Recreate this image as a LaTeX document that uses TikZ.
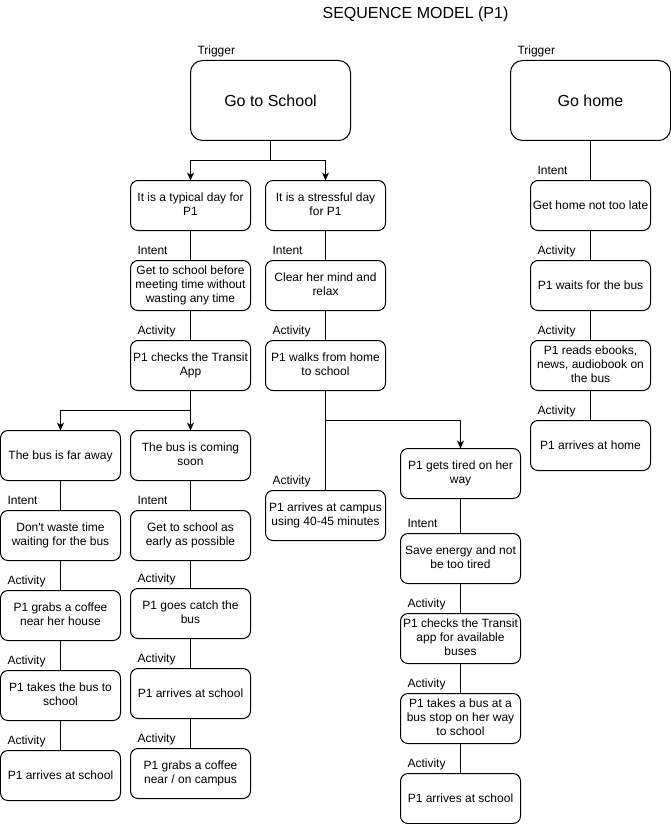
\documentclass[tikz,border=0pt]{standalone}
\usepackage{fontspec}
\setmainfont{Liberation Sans}
\usetikzlibrary{arrows.meta}
\newcommand{\topstrutx}{\rule{0pt}{0.905em}}
\newcommand{\botstrutx}{\rule[-0.212em]{0pt}{0pt}}
\begin{document}
\begin{tikzpicture}[x=1pt,y=-1pt,
  every node/.style={font=\fontsize{12}{14}\selectfont, inner sep=0pt, outer sep=0pt,
    execute at begin node={\topstrutx}, execute at end node={\botstrutx}},
  box/.style={draw, line width=1pt, rounded corners=7.5pt, minimum width=120pt, minimum height=50pt, align=center},
  bigbox/.style={draw, line width=1pt, rounded corners=12pt, minimum width=160pt, minimum height=80pt, align=center, font=\fontsize{16}{19}\selectfont},
  lbl/.style={anchor=west},
  conn/.style={line width=1pt},
  arr/.style={line width=1pt, -{Stealth[length=8pt,width=7pt,inset=2.5pt]}}
]
\fill[white] (-0.5,-0.5) rectangle (670.5,823.5);
\useasboundingbox (-0.5,-0.5) rectangle (670.5,823.5);

\node[font=\fontsize{16}{19}\selectfont] (title) at (415,12) {SEQUENCE MODEL (P1)};

% triggers
\node[bigbox] (s) at (270,100) {Go to School};
\node[bigbox] (h) at (590,100) {Go home};
\node[lbl] (ts) at (197,50) {Trigger};
\node[lbl] (th) at (517,50) {Trigger};

% column A
\node[box] (a1) at (190,205) {It is a typical day for\\P1};
\node[box] (a2) at (190,285) {Get to school before\\meeting time without\\wasting any time};
\node[box] (a3) at (190,365) {P1 checks the Transit\\App};
% column B
\node[box] (b1) at (325,205) {It is a stressful day\\for P1};
\node[box] (b2) at (325,285) {Clear her mind and\\relax};
\node[box] (b3) at (325,365) {P1 walks from home\\to school};
\node[box] (b4) at (325,515) {P1 arrives at campus\\using 40-45 minutes};
% column L
\node[box] (l1) at (60,455) {The bus is far away};
\node[box] (l2) at (60,535) {Don\textquotesingle t waste time\\waiting for the bus};
\node[box] (l3) at (60,615) {P1 grabs a coffee\\near her house};
\node[box] (l4) at (60,695) {P1 takes the bus to\\school};
\node[box] (l5) at (60,775) {P1 arrives at school};
% column M
\node[box] (m1) at (190,455) {The bus is coming\\soon};
\node[box] (m2) at (190,535) {Get to school as\\early as possible};
\node[box] (m3) at (190,613) {P1 goes catch the\\bus};
\node[box] (m4) at (190,693) {P1 arrives at school};
\node[box] (m5) at (190,773) {P1 grabs a coffee\\near / on campus};
% column D
\node[box] (d1) at (460,473) {P1 gets tired on her\\way};
\node[box] (d2) at (460,558) {Save energy and not\\be too tired};
\node[box] (d3) at (460,638) {P1 checks the Transit\\app for available\\buses};
\node[box] (d4) at (460,718) {P1 takes a bus at a\\bus stop on her way\\to school};
\node[box] (d5) at (460,798) {P1 arrives at school};
% column C
\node[box] (c1) at (590,205) {Get home not too late};
\node[box] (c2) at (590,285) {P1 waits for the bus};
\node[box] (c3) at (590,365) {P1 reads ebooks,\\news, audiobook on\\the bus};
\node[box] (c4) at (590,445) {P1 arrives at home};

% labels
\node[lbl] (la2) at ([shift={(7,-10)}]a2.north west) {Intent};
\node[lbl] (la3) at ([shift={(7,-10)}]a3.north west) {Activity};
\node[lbl] (lb2) at ([shift={(7,-10)}]b2.north west) {Intent};
\node[lbl] (lb3) at ([shift={(7,-10)}]b3.north west) {Activity};
\node[lbl] (lb4) at ([shift={(7,-10)}]b4.north west) {Activity};
\node[lbl] (ll2) at ([shift={(7,-10)}]l2.north west) {Intent};
\node[lbl] (ll3) at ([shift={(7,-10)}]l3.north west) {Activity};
\node[lbl] (ll4) at ([shift={(7,-10)}]l4.north west) {Activity};
\node[lbl] (ll5) at ([shift={(7,-10)}]l5.north west) {Activity};
\node[lbl] (lm2) at ([shift={(7,-10)}]m2.north west) {Intent};
\node[lbl] (lm3) at ([shift={(7,-10)}]m3.north west) {Activity};
\node[lbl] (lm4) at ([shift={(7,-10)}]m4.north west) {Activity};
\node[lbl] (lm5) at ([shift={(7,-10)}]m5.north west) {Activity};
\node[lbl] (ld2) at ([shift={(7,-10)}]d2.north west) {Intent};
\node[lbl] (ld3) at ([shift={(7,-10)}]d3.north west) {Activity};
\node[lbl] (ld4) at ([shift={(7,-10)}]d4.north west) {Activity};
\node[lbl] (ld5) at ([shift={(7,-10)}]d5.north west) {Activity};
\node[lbl] (lc1) at ([shift={(7,-10)}]c1.north west) {Intent};
\node[lbl] (lc2) at ([shift={(7,-10)}]c2.north west) {Activity};
\node[lbl] (lc3) at ([shift={(7,-10)}]c3.north west) {Activity};
\node[lbl] (lc4) at ([shift={(7,-10)}]c4.north west) {Activity};

% connectors
\coordinate (sj) at (270,160);
\draw[conn] (s.south) -- (sj);
\draw[arr] (sj) -| (a1.north);
\draw[arr] (sj) -| (b1.north);

\draw[conn] (a1) -- (a2);
\draw[conn] (a2) -- (a3);
\coordinate (aj) at (190,410);
\draw[conn] (a3.south) -- (aj);
\draw[arr] (aj) -| (l1.north);
\draw[arr] (aj) -- (m1.north);

\draw[conn] (b1) -- (b2);
\draw[conn] (b2) -- (b3);
\draw[conn] (b3) -- (b4);
\coordinate (bj) at (325,420);
\draw[arr] (bj) -| (d1.north);

\draw[conn] (l1) -- (l2);
\draw[conn] (l2) -- (l3);
\draw[conn] (l3) -- (l4);
\draw[conn] (l4) -- (l5);

\draw[conn] (m1) -- (m2);
\draw[conn] (m2) -- (m3);
\draw[conn] (m3) -- (m4);
\draw[conn] (m4) -- (m5);

\draw[conn] (d1) -- (d2);
\draw[conn] (d2) -- (d3);
\draw[conn] (d3) -- (d4);
\draw[conn] (d4) -- (d5);

\draw[conn] (h) -- (c1);
\draw[conn] (c1) -- (c2);
\draw[conn] (c2) -- (c3);
\draw[conn] (c3) -- (c4);
\end{tikzpicture}
\end{document}
